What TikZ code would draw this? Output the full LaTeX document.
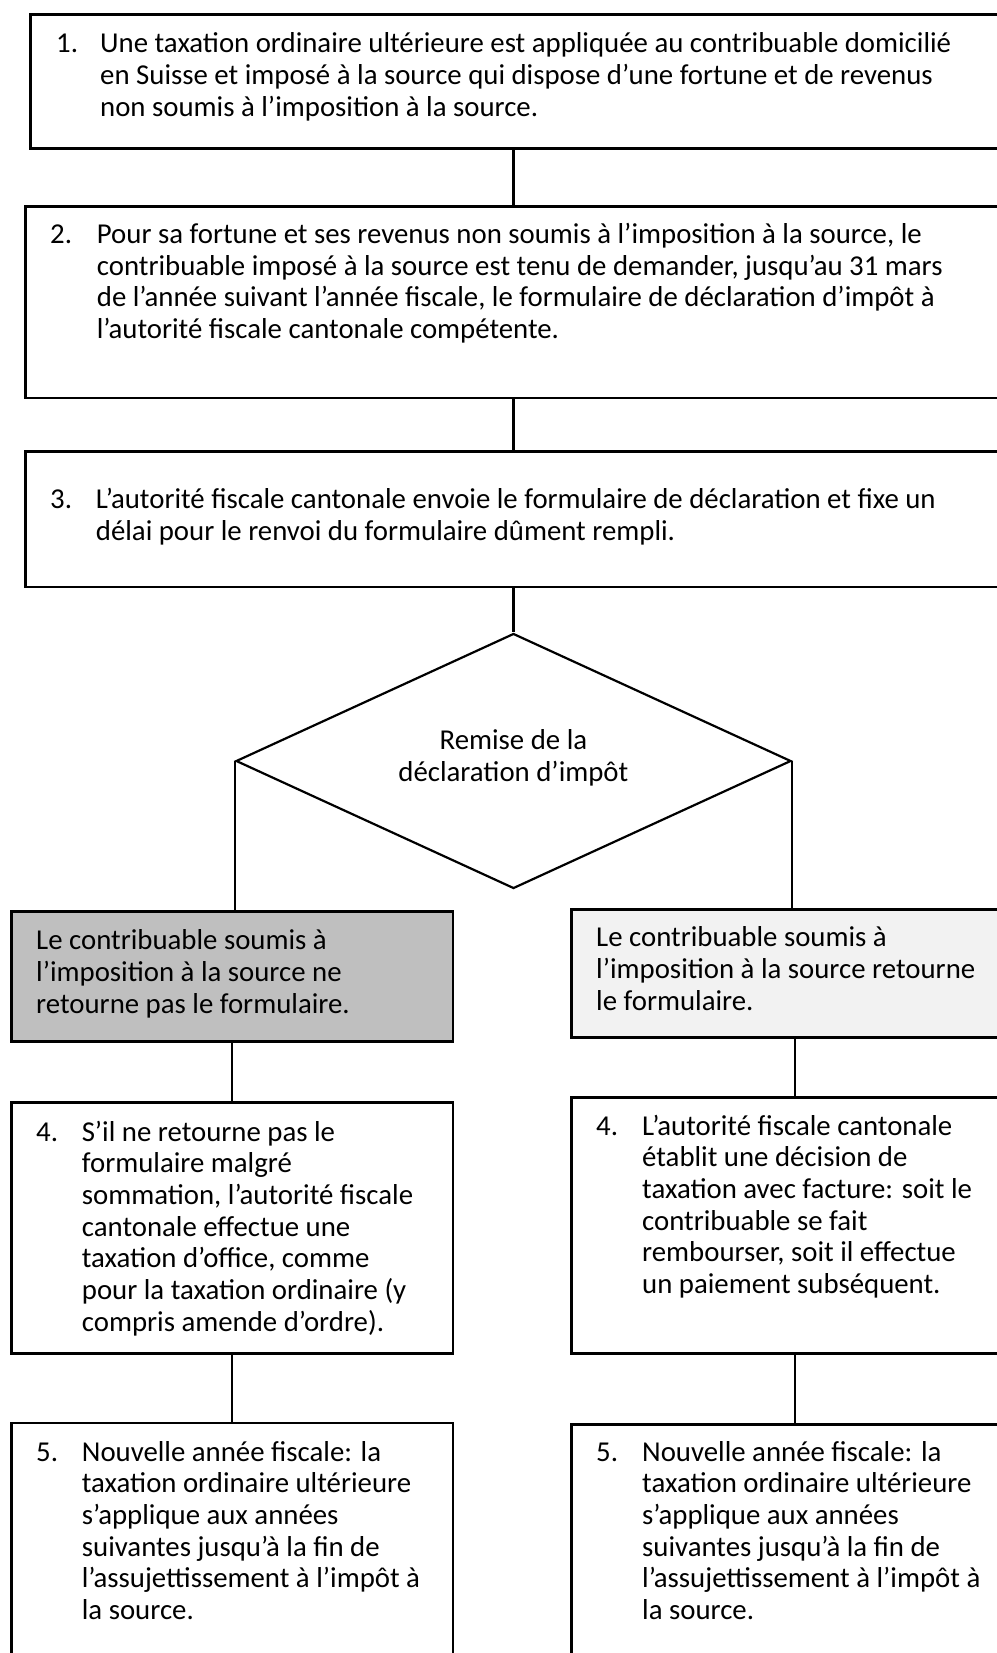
\documentclass[tikz,border=0pt]{standalone}
\usepackage{fontspec}
\setmainfont{Carlito}
\usetikzlibrary{shapes.geometric}
\definecolor{graybox}{HTML}{BFBFBF}
\definecolor{lightbox}{HTML}{F2F2F2}
\begin{document}
\begin{tikzpicture}[x=1pt,y=-1pt,
  box/.style={draw, line width=2.7pt, rectangle, inner sep=0pt, anchor=north west},
  conn/.style={line width=2.2pt},
  txt/.style={anchor=base west, inner sep=0pt, align=left, font=\fontsize{28.8}{31.7}\selectfont},
  ctxt/.style={anchor=base, inner sep=0pt, align=center, font=\fontsize{28.8}{31.7}\selectfont}]
\useasboundingbox (0,0) rectangle (996,1653);

% boxes
\node[box, minimum width=1000pt, minimum height=134pt] (b1) at (29.3,13.5) {};
\node[box, minimum width=1000pt, minimum height=191pt] (b2) at (24.3,205.5) {};
\node[box, minimum width=1000pt, minimum height=135.5pt] (b3) at (24.3,450) {};
\node[draw, shape=diamond, line width=2.2pt, inner sep=0pt, aspect=2.176,
      minimum width=555pt, minimum height=255pt] (dia) at (513.5,761) {};
\node[box, fill=graybox, minimum width=441.7pt, minimum height=130pt] (gl) at (10,910) {};
\node[box, fill=lightbox, minimum width=447.4pt, minimum height=127.7pt] (gr) at (570.3,908.3) {};
\node[box, minimum width=441.7pt, minimum height=251pt] (b4l) at (10,1101) {};
\node[box, minimum width=447.4pt, minimum height=256pt] (b4r) at (570.3,1096) {};
\node[box, minimum width=441.7pt, minimum height=300pt] (b5l) at (10,1421.7) {};
\node[box, minimum width=447.4pt, minimum height=300pt] (b5r) at (570.3,1423) {};

% connectors
\draw[conn] (b1.south -| dia.north) -- (b2.north -| dia.north);
\draw[conn] (b2.south -| dia.north) -- (b3.north -| dia.north);
\draw[conn] (b3.south -| dia.north) -- (dia.north);
\draw[conn] (dia.west) -- (dia.west |- gl.north);
\draw[conn] (dia.east) -- (dia.east |- gr.north);
\draw[conn] (gl.south) -- (b4l.north);
\draw[conn] (b4l.south) -- (b5l.north);
\draw[conn] (gr.south) -- (b4r.north);
\draw[conn] (b4r.south) -- (b5r.north);

% texts (multi-line nodes are anchored at the baseline of their last line)
\node[txt] (n1) at (56,53) {1.};
\node[txt] (t1) at (100,116.4) {Une taxation ordinaire ultérieure est appliquée au contribuable domicilié\\en Suisse et imposé à la source qui dispose d’une fortune et de revenus\\non soumis à l’imposition à la source.};
\node[txt] (n2) at (50,243.3) {2.};
\node[txt] (t2) at (96.7,338.4) {Pour sa fortune et ses revenus non soumis à l’imposition à la source, le\\contribuable imposé à la source est tenu de demander, jusqu’au 31 mars\\de l’année suivant l’année fiscale, le formulaire de déclaration d’impôt à\\l’autorité fiscale cantonale compétente.};
\node[txt] (n3) at (50,508.3) {3.};
\node[txt] (t3) at (95.7,540) {L’autorité fiscale cantonale envoie le formulaire de déclaration et fixe un\\délai pour le renvoi du formulaire dûment rempli.};
\node[ctxt] (td) at (513.4,781.4) {Remise de la\\déclaration d’impôt};
\node[txt] (tgl) at (36,1013.1) {Le contribuable soumis à\\l’imposition à la source ne\\retourne pas le formulaire.};
\node[txt] (tgr) at (596,1010.1) {Le contribuable soumis à\\l’imposition à la source retourne\\le formulaire.};
\node[txt] (n4l) at (36,1141) {4.};
\node[txt] (t4l) at (81.7,1331.2) {S’il ne retourne pas le\\formulaire malgré\\sommation, l’autorité fiscale\\cantonale effectue une\\taxation d’office, comme\\pour la taxation ordinaire (y\\compris amende d’ordre).};
\node[txt] (n4r) at (596,1135) {4.};
\node[txt] (t4r) at (642,1293.5) {L’autorité fiscale cantonale\\établit une décision de\\taxation avec facture: soit le\\contribuable se fait\\rembourser, soit il effectue\\un paiement subséquent.};
\node[txt] (n5l) at (36,1461) {5.};
\node[txt] (t5l) at (81.7,1619.5) {Nouvelle année fiscale: la\\taxation ordinaire ultérieure\\s’applique aux années\\suivantes jusqu’à la fin de\\l’assujettissement à l’impôt à\\la source.};
\node[txt] (n5r) at (596,1461) {5.};
\node[txt] (t5r) at (642,1619.5) {Nouvelle année fiscale: la\\taxation ordinaire ultérieure\\s’applique aux années\\suivantes jusqu’à la fin de\\l’assujettissement à l’impôt à\\la source.};
\end{tikzpicture}
\end{document}
